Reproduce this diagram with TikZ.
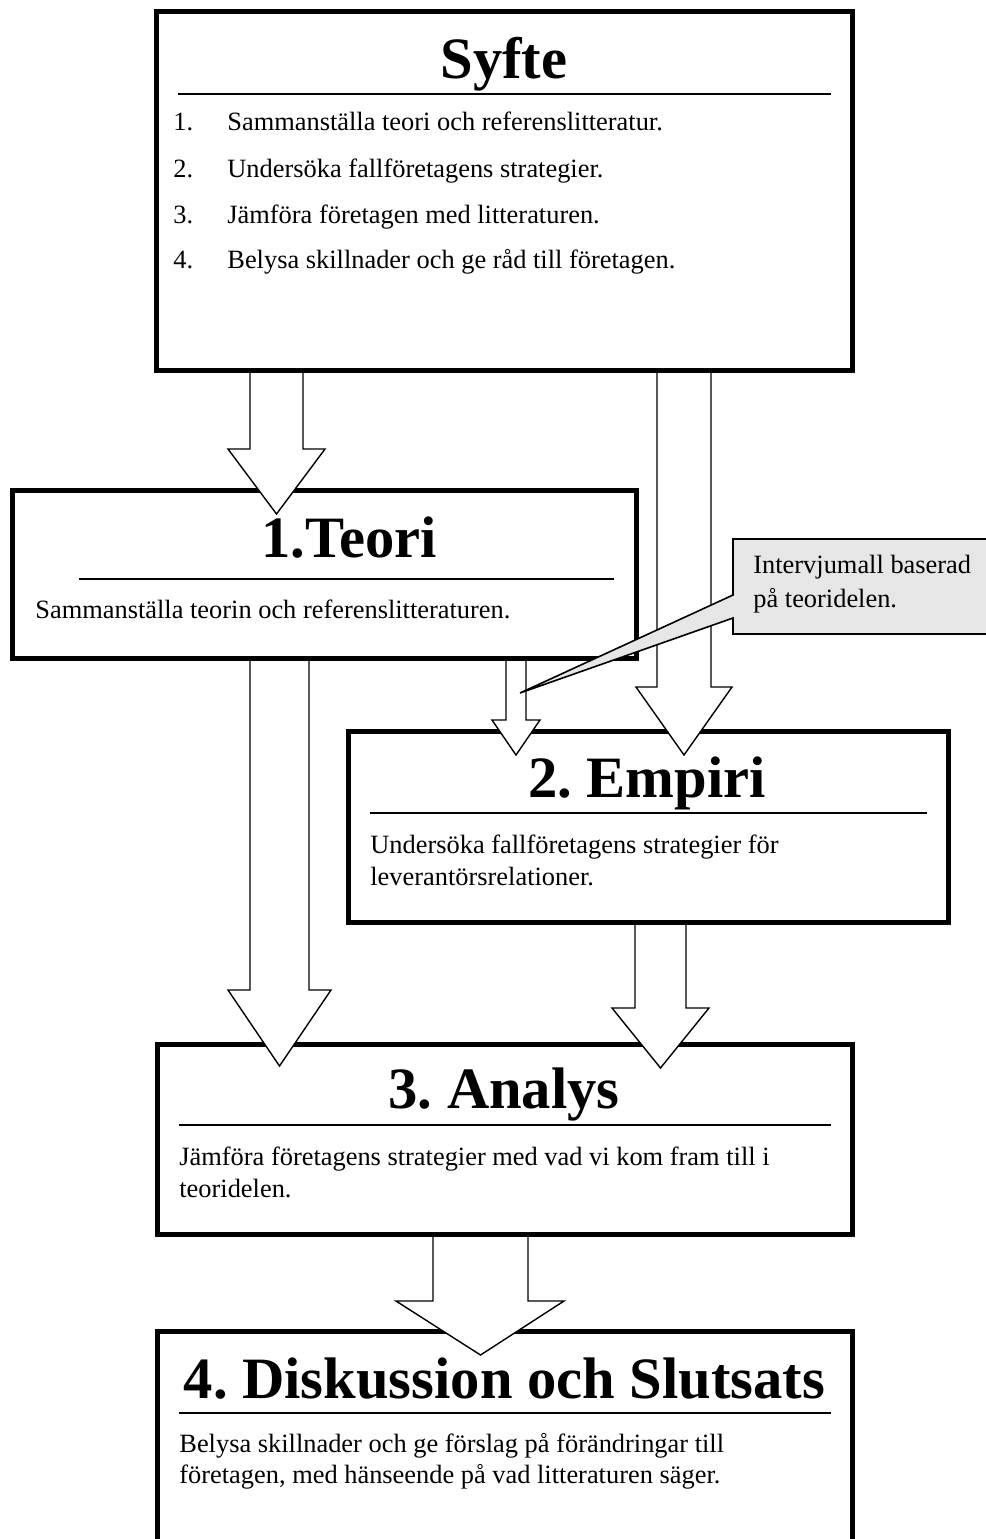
\documentclass[tikz,border=0pt]{standalone}
\usepackage{fontspec}
\setmainfont{Liberation Serif}
\definecolor{calloutgray}{RGB}{230,230,230}
\frenchspacing
\begin{document}
\begin{tikzpicture}[x=0.5pt,y=-0.5pt,
  box/.style={draw, line width=2.5pt, fill=white, inner sep=0pt, outer sep=0pt},
  hrule/.style={line width=1.2pt},
  barrow/.style={draw, fill=white, line width=0.7pt, line join=miter},
  ttl/.style={font=\fontsize{29.3}{35}\selectfont\bfseries, anchor=base, inner sep=0pt},
  body/.style={font=\fontsize{13.2}{16}\selectfont, anchor=base west, inner sep=0pt},
  callout/.style={draw, fill=calloutgray, line width=0.8pt, line join=miter}]
\useasboundingbox (0,0) rectangle (986,1539);
\fill[white] (0,0) rectangle (986,1539);
\clip (0,0) rectangle (986,1539);

% boxes
\node[box, minimum width=348pt, minimum height=179.5pt] (syfte) at (504,190.5) {};
\node[box, minimum width=312pt, minimum height=84pt] (teori) at (324,574) {};
\node[box, minimum width=300pt, minimum height=95.5pt] (empiri) at (648,826.5) {};
\node[box, minimum width=347.5pt, minimum height=95pt] (analys) at (504.5,1139) {};
\node[box, minimum width=347.5pt, minimum height=134.5pt] (disk) at (504.5,1465.5) {};

% Syfte content
\node[ttl] (syfteT) at (504,78) {Syfte};
\draw[hrule] (178,94) -- (831,94);
\node[body] (s1n) at (173,130) {1.};
\node[body] (s1) at (227,130) {Sammanställa teori och referenslitteratur.};
\node[body] (s2n) at (173,177) {2.};
\node[body] (s2) at (227,177) {Undersöka fallföretagens strategier.};
\node[body] (s3n) at (173,223) {3.};
\node[body] (s3) at (227,223) {Jämföra företagen med litteraturen.};
\node[body] (s4n) at (173,268) {4.};
\node[body] (s4) at (227,268) {Belysa skillnader och ge råd till företagen.};

% Teori content
\node[ttl] (teoriT) at (349,557) {1.Teori};
\draw[hrule] (79,579) -- (614,579);
\node[body] (teoriB) at (35,618) {Sammanställa teorin och referenslitteraturen.};

% Empiri content
\node[ttl] (empiriT) at (647,797) {2. Empiri};
\draw[hrule] (370,813) -- (927,813);
\node[body] (empiriB1) at (370,853) {Undersöka fallföretagens strategier för};
\node[body] (empiriB2) at (370,885) {leverantörsrelationer.};

% Analys content
\node[ttl] (analysT) at (504,1108) {3. Analys};
\draw[hrule] (179,1125) -- (831,1125);
\node[body] (analysB1) at (179,1165) {Jämföra företagens strategier med vad vi kom fram till i};
\node[body] (analysB2) at (179,1197) {teoridelen.};

% Diskussion content
\node[ttl] (diskT) at (504.5,1398) {4. Diskussion och Slutsats};
\draw[hrule] (179,1413) -- (831,1413);
\node[body] (diskB1) at (179,1452) {Belysa skillnader och ge förslag på förändringar till};
\node[body] (diskB2) at (179,1483) {företagen, med hänseende på vad litteraturen säger.};

% block arrows
\path[barrow] (250,373) -- (250,449) -- (228,449) -- (276.5,514) -- (325,449) -- (303,449) -- (303,373);
\path[barrow] (657,373) -- (657,687) -- (636,687) -- (684,755) -- (732,687) -- (711,687) -- (711,373);
\path[barrow] (506,661) -- (506,720) -- (492,720) -- (516,755) -- (540,720) -- (526,720) -- (526,661);
\path[barrow] (250,661) -- (250,990) -- (228,990) -- (279.5,1066) -- (331,990) -- (309,990) -- (309,661);
\path[barrow] (635,925) -- (635,1008) -- (612,1008) -- (660.5,1068) -- (709,1008) -- (686,1008) -- (686,925);
\path[barrow] (433,1237) -- (433,1301) -- (396,1301) -- (480.5,1355) -- (564,1301) -- (528,1301) -- (528,1237);

% callout
\coordinate (ctip) at (520,693);
\path[callout] (733,539) -- (1010,539) -- (1010,634) -- (733,634) -- (733,618) -- (ctip) -- (733,595) -- cycle;
\node[body] (call1) at (753,573) {Intervjumall baserad};
\node[body] (call2) at (753,607) {på teoridelen.};
\end{tikzpicture}
\end{document}
